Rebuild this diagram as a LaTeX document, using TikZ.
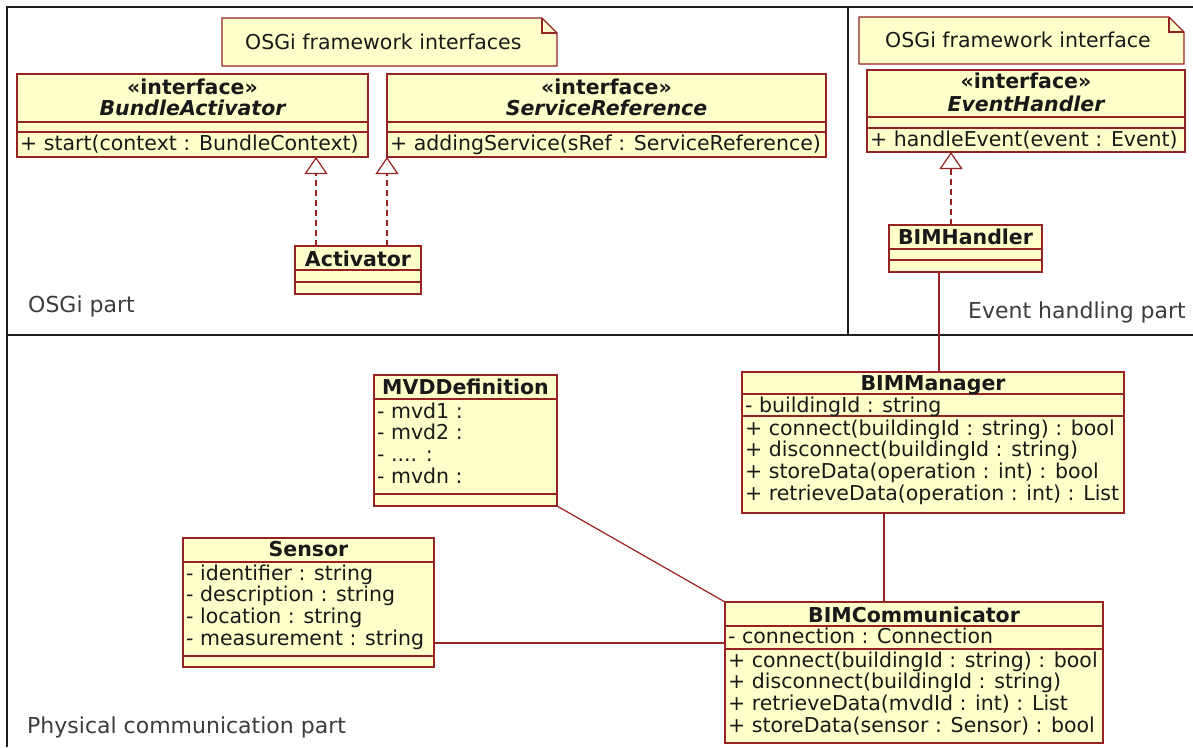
\documentclass[tikz,border=0pt]{standalone}
\usepackage{fontspec}
\setmainfont{DejaVu Sans}
\usetikzlibrary{arrows.meta,calc}

\definecolor{umlfill}{RGB}{255,255,204}
\definecolor{umlline}{RGB}{150,35,35}
\definecolor{umltext}{RGB}{25,25,25}
\definecolor{parttext}{RGB}{60,60,60}
\definecolor{framecol}{RGB}{30,30,30}

\newcommand\umlbox[5]{%
  \node[classbox, minimum width={#4-#2}, minimum height={#5-#3}] (#1) at (#2,#3) {};}
\newcommand\hsep[3]{\draw[sepline] (#1,#3) -- (#2,#3);}

\tikzset{
  x=1pt, y=-1pt,
  classbox/.style={draw=umlline, fill=umlfill, line width=1.3pt, inner sep=0pt, outer sep=0pt, anchor=north west},
  notebox/.style={inner sep=0pt, outer sep=0pt, anchor=north west},
  noteshape/.style={draw=umlline, fill=umlfill, line width=1.3pt, line join=miter},
  sepline/.style={draw=umlline, line width=1.1pt},
  txt/.style={inner sep=0pt, anchor=base west, text=umltext, font=\fontsize{20.5}{24}\selectfont},
  ctxt/.style={txt, anchor=base},
  nametxt/.style={ctxt, font=\fontsize{20.5}{24}\selectfont\bfseries},
  ifacetxt/.style={ctxt, font=\fontsize{20.5}{24}\selectfont\bfseries\itshape},
  parttxt/.style={inner sep=0pt, anchor=base west, text=parttext, font=\fontsize{22}{26}\selectfont},
  realize/.style={draw=umlline, line width=1.2pt, dash pattern=on 6pt off 4pt,
    -{Triangle[open, length=17pt, width=23pt, line width=1.2pt]}},
  assoc/.style={draw=umlline, line width=1.2pt},
  frameline/.style={draw=framecol, line width=1.6pt}
}

\begin{document}
\begin{tikzpicture}
\useasboundingbox (0,0) rectangle (1193,747);
\fill[white] (0,0) rectangle (1193,747);

% partition frame
\draw[frameline] (7,747) -- (7,7) -- (1193,7);
\draw[frameline] (848,7) -- (848,335);
\draw[frameline] (7,335) -- (1193,335);

% part labels
\node[parttxt] (lblosgi) at (28,312) {OSGi part};
\node[parttxt] (lblevent) at (968,318) {Event handling part};
\node[parttxt] (lblphys) at (27,733) {Physical communication part};

% notes
\node[notebox, minimum width=335pt, minimum height=48pt] (n1) at (222,18) {};
\draw[noteshape] (n1.north west) -- ([xshift=-15pt]n1.north east) -- ([yshift=-15pt]n1.north east)
  -- (n1.south east) -- (n1.south west) -- cycle;
\draw[sepline] ([xshift=-15pt]n1.north east) -- ([xshift=-15pt,yshift=-15pt]n1.north east) -- ([yshift=-15pt]n1.north east);
\node[txt] (n1t) at (245,49) {OSGi framework interfaces};

\node[notebox, minimum width=325pt, minimum height=47pt] (n2) at (859,17) {};
\draw[noteshape] (n2.north west) -- ([xshift=-15pt]n2.north east) -- ([yshift=-15pt]n2.north east)
  -- (n2.south east) -- (n2.south west) -- cycle;
\draw[sepline] ([xshift=-15pt]n2.north east) -- ([xshift=-15pt,yshift=-15pt]n2.north east) -- ([yshift=-15pt]n2.north east);
\node[txt] (n2t) at (885,47) {OSGi framework interface};

% BundleActivator
\umlbox{ba}{17}{74}{368}{157}
\hsep{17}{368}{122}\hsep{17}{368}{132}
\node[ctxt, font=\fontsize{20.5}{24}\selectfont\bfseries] at (192.5,94) {«interface»};
\node[ifacetxt] at (192.5,115) {BundleActivator};
\node[txt] at (20,150) {+ start(context : BundleContext)};

% ServiceReference
\umlbox{sr}{387}{74}{826}{157}
\hsep{387}{826}{122}\hsep{387}{826}{132}
\node[ctxt, font=\fontsize{20.5}{24}\selectfont\bfseries] at (606.5,94) {«interface»};
\node[ifacetxt] at (606.5,115) {ServiceReference};
\node[txt] at (390,150) {+ addingService(sRef : ServiceReference)};

% Activator
\umlbox{act}{295}{246}{421}{294}
\hsep{295}{421}{270}\hsep{295}{421}{282}
\node[nametxt] at (358,266) {Activator};

% EventHandler
\umlbox{eh}{867}{70}{1185}{152}
\hsep{867}{1185}{117}\hsep{867}{1185}{128}
\node[ctxt, font=\fontsize{20.5}{24}\selectfont\bfseries] at (1026,88) {«interface»};
\node[ifacetxt] at (1026,111) {EventHandler};
\node[txt] at (870,146) {+ handleEvent(event : Event)};

% BIMHandler
\umlbox{bh}{889}{225}{1042}{272}
\hsep{889}{1042}{249}\hsep{889}{1042}{260}
\node[nametxt] at (965.5,244) {BIMHandler};

% BIMManager
\umlbox{bm}{742}{372}{1124}{513}
\hsep{742}{1124}{394}\hsep{742}{1124}{416}
\node[nametxt] at (933,390) {BIMManager};
\node[txt] at (745,412) {- buildingId : string};
\node[txt] at (745,435.0) {+ connect(buildingId : string) : bool};
\node[txt] at (745,456.7) {+ disconnect(buildingId : string)};
\node[txt] at (745,478.4) {+ storeData(operation : int) : bool};
\node[txt] at (745,500.1) {+ retrieveData(operation : int) : List};

% MVDDefinition
\umlbox{mvd}{374}{375}{557}{506}
\hsep{374}{557}{399}\hsep{374}{557}{494}
\node[nametxt] at (465.5,394) {MVDDefinition};
\node[txt] at (377,418.0) {- mvd1 :};
\node[txt] at (377,439.7) {- mvd2 :};
\node[txt] at (377,461.4) {- .... :};
\node[txt] at (377,483.1) {- mvdn :};

% Sensor
\umlbox{sen}{183}{538}{434}{667}
\hsep{183}{434}{562}\hsep{183}{434}{656}
\node[nametxt] at (308.5,556) {Sensor};
\node[txt] at (186,580.0) {- identifier : string};
\node[txt] at (186,601.7) {- description : string};
\node[txt] at (186,623.4) {- location : string};
\node[txt] at (186,645.1) {- measurement : string};

% BIMCommunicator
\umlbox{bc}{725}{602}{1103}{743}
\hsep{725}{1103}{626}\hsep{725}{1103}{649}
\node[nametxt] at (914,622) {BIMCommunicator};
\node[txt] at (728,643) {- connection : Connection};
\node[txt] at (728,667.0) {+ connect(buildingId : string) : bool};
\node[txt] at (728,688.7) {+ disconnect(buildingId : string)};
\node[txt] at (728,710.4) {+ retrieveData(mvdId : int) : List};
\node[txt] at (728,732.1) {+ storeData(sensor : Sensor) : bool};

% realizations
\coordinate (actL) at ($(act.north west)+(21,0)$);
\draw[realize] (actL) -- (actL |- ba.south);
\draw[realize] (act.north -| sr.south west) -- (sr.south west);
\coordinate (bhD) at ($(bh.north west)+(62,0)$);
\draw[realize] (bhD) -- (bhD |- eh.south);

% associations
\coordinate (bhB) at ($(bh.south west)+(50,0)$);
\draw[assoc] (bhB) -- (bhB |- bm.north);
\coordinate (bcT) at ($(bc.north west)+(159,0)$);
\draw[assoc] (bcT) -- (bcT |- bm.south);
\draw[assoc] (mvd.south east) -- (bc.north west);
\coordinate (senR) at ($(sen.north east)+(0,105)$);
\draw[assoc] (senR) -- (senR -| bc.west);
\end{tikzpicture}
\end{document}
